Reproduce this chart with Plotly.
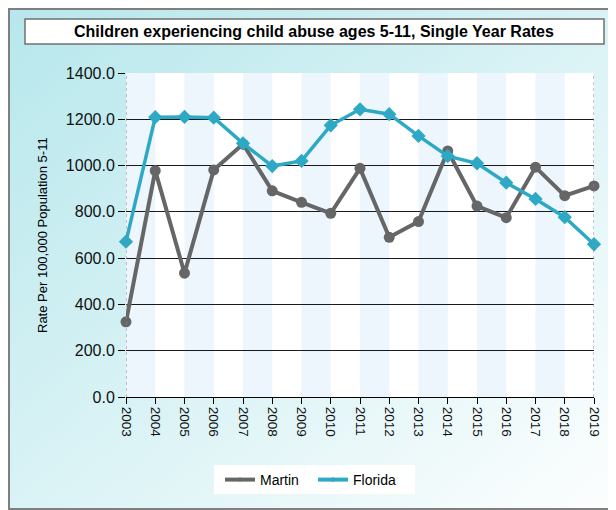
import base64
import plotly.graph_objects as go

years = list(range(2003, 2020))
martin = [325, 978, 535, 981, 1093, 891, 841, 794, 988, 690, 758, 1063, 825, 775, 993, 870, 912]
florida = [671, 1209, 1210, 1207, 1096, 998, 1020, 1174, 1243, 1222, 1128, 1041, 1010, 926, 856, 777, 660]

title_text = "Children experiencing child abuse ages 5-11, Single Year Rates"
y_title = "Rate Per 100,000 Population 5-11"
y_ticks = [0, 200, 400, 600, 800, 1000, 1200, 1400]

# page is 616x510; the browser body adds an 8px margin, so the figure is offset
OFF = 8
W, H = 616, 510
FW, FH = W - OFF, H - OFF
ML, MR, MT, MB = 126, 22, 73, 113          # page coordinates of the plot area
PW, PH = W - ML - MR, H - MT - MB


def px(x):
    return (x - ML) / PW


def py(y):
    return (H - MB - y) / PH


MARTIN_C = "#666666"
FLORIDA_C = "#2ea9c5"
FONT = "Liberation Sans, Arial, sans-serif"

svg = (
    '<svg xmlns="http://www.w3.org/2000/svg" width="616" height="510" preserveAspectRatio="none">'
    '<defs><linearGradient id="g" x1="0" y1="0" x2="1" y2="1">'
    '<stop offset="0" stop-color="#b6e7ec"/><stop offset="1" stop-color="#fdfefe"/>'
    '</linearGradient></defs><rect width="616" height="510" fill="url(#g)"/></svg>'
)
bg_src = "data:image/svg+xml;base64," + base64.b64encode(svg.encode()).decode()

fig = go.Figure()

fig.add_trace(go.Scatter(
    x=years, y=martin, name="Martin", mode="lines+markers",
    line=dict(color=MARTIN_C, width=4),
    marker=dict(symbol="circle", size=11, color=MARTIN_C),
    cliponaxis=False, showlegend=False, legendgroup="m"))
fig.add_trace(go.Scatter(
    x=years, y=florida, name="Florida", mode="lines+markers",
    line=dict(color=FLORIDA_C, width=3.5),
    marker=dict(symbol="diamond", size=11, color=FLORIDA_C),
    cliponaxis=False, showlegend=False, legendgroup="f"))
# legend entries (small markers as in the reference legend)
fig.add_trace(go.Scatter(
    x=[None], y=[None], name="Martin", mode="lines+markers",
    line=dict(color=MARTIN_C, width=4),
    marker=dict(symbol="circle", size=4, color=MARTIN_C), legendgroup="m"))
fig.add_trace(go.Scatter(
    x=[None], y=[None], name="Florida", mode="lines+markers",
    line=dict(color=FLORIDA_C, width=4),
    marker=dict(symbol="diamond", size=4, color=FLORIDA_C), legendgroup="f"))

shapes = [
    # white plot area above the gradient image
    dict(type="rect", xref="paper", yref="paper", x0=0, x1=1, y0=0, y1=1,
         fillcolor="white", line=dict(width=0), layer="below"),
]
# alternating bands
for i in range(0, len(years) - 1, 2):
    shapes.append(dict(type="rect", xref="x", yref="y", x0=years[i], x1=years[i + 1],
                       y0=y_ticks[0], y1=y_ticks[-1], fillcolor="#edf6fd",
                       line=dict(width=0), layer="below"))
# dotted side borders
for xv in (years[0], years[-1]):
    shapes.append(dict(type="line", xref="x", yref="y", x0=xv, x1=xv,
                       y0=y_ticks[0], y1=y_ticks[-1],
                       line=dict(color="#8a8a8a", width=1, dash="dot"), layer="above"))
# outer frame
shapes.append(dict(type="rect", xref="paper", yref="paper",
                   x0=px(9), x1=px(640), y0=py(509), y1=py(9),
                   line=dict(color="#7f7f7f", width=2), fillcolor="rgba(0,0,0,0)"))
# title box
shapes.append(dict(type="rect", xref="paper", yref="paper",
                   x0=px(25), x1=px(604), y0=py(44), y1=py(19),
                   line=dict(color="#707070", width=1.5), fillcolor="white"))
# legend box
shapes.append(dict(type="rect", xref="paper", yref="paper",
                   x0=px(214), x1=px(415), y0=py(494), y1=py(465),
                   line=dict(width=0), fillcolor="white"))

annotations = [
    dict(text="<b>" + title_text + "</b>", xref="paper", yref="paper",
         x=px(314), y=py(31.5), xanchor="center", yanchor="middle", showarrow=False,
         font=dict(family=FONT, size=16, color="#000000")),
    dict(text=y_title, xref="paper", yref="paper", x=px(42), y=py(235),
         xanchor="center", yanchor="middle", textangle=-90, showarrow=False,
         font=dict(family=FONT, size=13, color="#000000")),
]

fig.update_layout(
    width=FW, height=FH,
    margin=dict(l=ML - OFF, r=MR, t=MT - OFF, b=MB, autoexpand=False),
    paper_bgcolor="#dff4f6", plot_bgcolor="white",
    images=[dict(source=bg_src, xref="paper", yref="paper",
                 x=px(OFF), y=py(OFF), sizex=FW / PW, sizey=FH / PH,
                 xanchor="left", yanchor="top", sizing="stretch", layer="below")],
    shapes=shapes, annotations=annotations,
    showlegend=True,
    legend=dict(orientation="h", x=px(220), y=py(464), xanchor="left", yanchor="top",
                bgcolor="rgba(0,0,0,0)", borderwidth=0,
                font=dict(family=FONT, size=14, color="#000"),
                itemwidth=30, entrywidth=48),
    font=dict(family=FONT),
)

fig.update_xaxes(range=[years[0], years[-1]], tickvals=years, ticktext=[str(y) for y in years],
                 tickangle=90, ticks="outside", ticklen=6, tickcolor="#000", tickwidth=1,
                 showline=True, linecolor="#000", linewidth=1, showgrid=False, zeroline=False,
                 tickfont=dict(family=FONT, size=13.5, color="#111"))
fig.update_yaxes(range=[y_ticks[0], y_ticks[-1]], tickvals=y_ticks,
                 ticktext=[f"{v:.1f}" for v in y_ticks],
                 ticks="outside", ticklen=7, tickcolor="#000", tickwidth=1,
                 showgrid=True, gridcolor="#1a1a1a", gridwidth=1, zeroline=False, showline=False,
                 tickfont=dict(family=FONT, size=16, color="#111"))

fig.write_html("out.html")
